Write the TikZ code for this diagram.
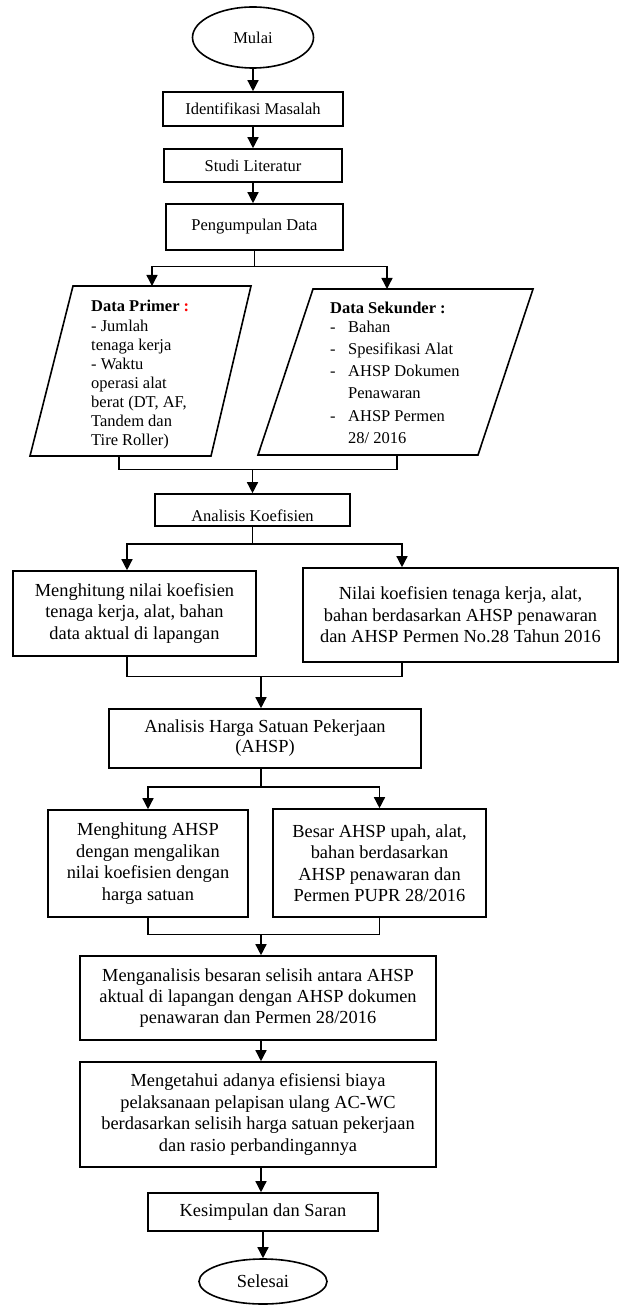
\documentclass[tikz,border=0pt]{standalone}
\usepackage{fontspec}
\setmainfont{Liberation Serif}
\usetikzlibrary{arrows.meta,shapes.geometric}
\begin{document}
\begin{tikzpicture}[x=1pt,y=-1pt,
  box/.style={draw, line width=1.6pt, rectangle, inner sep=0pt, align=center},
  small/.style={font=\fontsize{16.5}{19}\selectfont},
  big/.style={font=\fontsize{18.4}{21.4}\selectfont},
  arr/.style={line width=1.4pt, -{Triangle[width=11pt,length=11pt]}},
  ln/.style={line width=1.4pt},
  para/.style={draw, line width=1.6pt}]
\useasboundingbox (0,0) rectangle (619,1305);

% top column
\node[box, ellipse, small, minimum width=121pt, minimum height=61pt] (mulai) at (253,37.5) {Mulai};
\node[box, small, minimum width=180pt, minimum height=34pt] (ident) at (253,109) {Identifikasi Masalah};
\node[box, small, minimum width=178pt, minimum height=33pt] (studi) at (253,165.5) {Studi Literatur};
\node[box, small, minimum width=177pt, minimum height=46pt] (kumpul) at (254.5,227) {Pengumpulan Data};

\draw[arr] (mulai.south) -- (mulai.south |- ident.north);
\draw[arr] (ident.south) -- (ident.south |- studi.north);
\draw[arr] (studi.south) -- (studi.south |- kumpul.north);

% parallelograms
\draw[para] (73,286) coordinate (p1tl) -- (251,286) coordinate (p1tr) -- (211,456) coordinate (p1br) -- (30,456) coordinate (p1bl) -- cycle;
\draw[para] (313,289) coordinate (p2tl) -- (533,289) coordinate (p2tr) -- (478,455) coordinate (p2br) -- (258,455) coordinate (p2bl) -- cycle;
\coordinate (p1top) at (152,286);
\coordinate (p1bot) at (119,456);
\coordinate (p2top) at (387,289);
\coordinate (p2bot) at (397,455);

\node[anchor=base west, inner sep=0pt] (primer) at (91,312)
  {\parbox[t]{120pt}{\raggedright\fontsize{16.5}{19.1}\selectfont
   \textbf{Data Primer \textcolor{red}{:}}\\
   - Jumlah\\
   tenaga kerja\\
   - Waktu\\
   operasi alat\\
   berat (DT, AF,\\
   Tandem dan\\
   Tire Roller)}};

\node[anchor=base west, inner sep=0pt] (sekunder) at (330,313)
  {\parbox[t]{180pt}{\raggedright\fontsize{16.5}{22.3}\selectfont
   \textbf{Data Sekunder :}\\[-3.3pt]
   \makebox[18pt][l]{-}Bahan\\
   \makebox[18pt][l]{-}Spesifikasi Alat\\
   \makebox[18pt][l]{-}AHSP Dokumen\\
   \hspace*{18pt}Penawaran\\
   \makebox[18pt][l]{-}AHSP Permen\\
   \hspace*{18pt}28/ 2016}};

\coordinate (b1) at ([yshift=-16pt]kumpul.south);
\draw[ln] (kumpul.south) -- (b1);
\draw[arr] (b1) -| (p1top);
\draw[arr] (b1) -| (p2top);

% analisis koefisien
\node[box, small, minimum width=195pt, minimum height=32pt, text height=23pt, text depth=0pt] (koef) at (252.5,510) {Analisis Koefisien};
\coordinate (j1) at ([yshift=24pt]koef.north);
\draw[ln] (p1bot) |- (j1);
\draw[ln] (p2bot) |- (j1);
\draw[arr] (j1) -- (koef.north);

\node[box, big, minimum width=243pt, minimum height=85pt] (hitung1) at (134.5,613.5)
  {Menghitung nilai koefisien\\tenaga kerja, alat, bahan\\data aktual di lapangan};
\node[box, big, minimum width=315pt, minimum height=94pt] (nilai) at (460.5,615)
  {Nilai koefisien tenaga kerja, alat,\\bahan berdasarkan AHSP penawaran\\dan AHSP Permen No.28 Tahun 2016};

\coordinate (b2) at ([yshift=-17pt]koef.south);
\draw[ln] (koef.south) -- (b2);
\draw[arr] (b2) -| ([xshift=-7.5pt]hitung1.north);
\draw[arr] (b2) -| ([xshift=-58.5pt]nilai.north);

% AHSP
\node[box, big, minimum width=312pt, minimum height=59pt, font=\fontsize{18.4}{20}\selectfont] (ahsp) at (265,738.5)
  {Analisis Harga Satuan Pekerjaan\\(AHSP)};
\coordinate (j2) at ([xshift=-4pt,yshift=32pt]ahsp.north);
\draw[ln] ([xshift=-7.5pt]hitung1.south) |- (j2);
\draw[ln] ([xshift=-58.5pt]nilai.south) |- (j2);
\draw[arr] (j2) -- (j2 |- ahsp.north);

\node[box, big, minimum width=200pt, minimum height=107pt] (hitung2) at (148,863.5)
  {Menghitung AHSP\\dengan mengalikan\\nilai koefisien dengan\\harga satuan};
\node[box, big, minimum width=213pt, minimum height=108pt] (besar) at (379.5,863)
  {Besar AHSP upah, alat,\\bahan berdasarkan\\AHSP penawaran dan\\Permen PUPR 28/2016};

\coordinate (b3) at ([xshift=-4pt,yshift=-18pt]ahsp.south);
\draw[ln] (b3 |- ahsp.south) -- (b3);
\draw[arr] (b3) -| (hitung2.north);
\draw[arr] (b3) -| (besar.north);

% lower column
\node[box, big, minimum width=356pt, minimum height=84pt] (analisa) at (258,998)
  {Menganalisis besaran selisih antara AHSP\\aktual di lapangan dengan AHSP dokumen\\penawaran dan Permen 28/2016};
\coordinate (j3) at ([xshift=3pt,yshift=21pt]analisa.north);
\draw[ln] (hitung2.south) |- (j3);
\draw[ln] (besar.south) |- (j3);
\draw[arr] (j3) -- (j3 |- analisa.north);

\node[box, big, minimum width=356pt, minimum height=105pt] (tahu) at (258,1114.5)
  {Mengetahui adanya efisiensi biaya\\pelaksanaan pelapisan ulang AC-WC\\berdasarkan selisih harga satuan pekerjaan\\dan rasio perbandingannya};
\draw[arr] ([xshift=3pt]analisa.south) -- ([xshift=3pt]tahu.north);

\node[box, big, minimum width=230pt, minimum height=38pt] (simpul) at (263,1212) {Kesimpulan dan Saran};
\draw[arr] ([xshift=3pt]tahu.south) -- ([xshift=3pt]tahu.south |- simpul.north);

\node[box, ellipse, big, minimum width=128pt, minimum height=45pt] (selesai) at (263,1281.5) {Selesai};
\draw[arr] (simpul.south) -- (selesai.north);
\end{tikzpicture}
\end{document}
